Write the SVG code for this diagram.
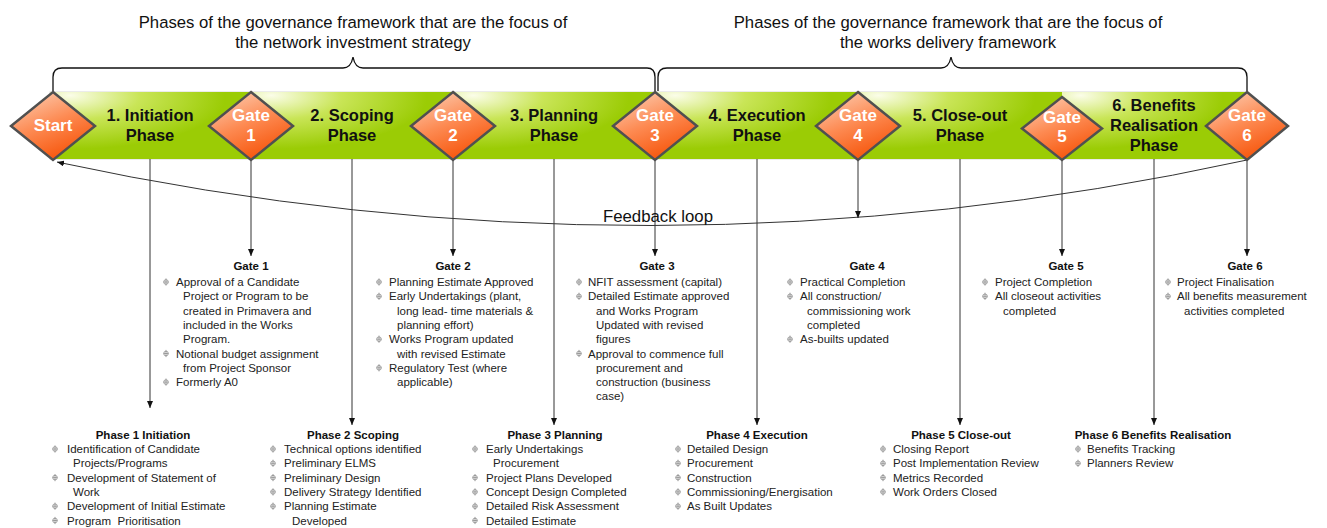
<svg xmlns="http://www.w3.org/2000/svg" xmlns:xlink="http://www.w3.org/1999/xlink" width="1327" height="528" viewBox="0 0 1327 528">
  <defs>
    <style>
      text { font-family: "Liberation Sans", Arial, sans-serif; }
      .title { font-size: 16.7px; fill: #111; text-anchor: middle; }
      .phase { font-size: 16.5px; font-weight: bold; fill: #111; text-anchor: middle; }
      .dlab { font-size: 17px; font-weight: bold; fill: #fff; text-anchor: middle; }
      .hd { font-size: 11.5px; font-weight: bold; fill: #111; text-anchor: middle; }
      .bt { font-size: 11.5px; fill: #222; }
      .seg { stroke: none; }
      .dia { fill: url(#gDia); stroke: #505050; stroke-width: 2.5; stroke-linejoin: miter; }
      .ln { stroke: #333; stroke-width: 1; fill: none; }
      .brace { stroke: #111; stroke-width: 1.3; fill: none; }
      .fb { font-size: 16.8px; fill: #111; text-anchor: middle; }
      .bm { fill: none; stroke: #8a8a8a; stroke-width: 0.8; }
    </style>
    <radialGradient id="gSeg" cx="0.12" cy="0.1" r="0.75" fx="0.1" fy="0.05">
      <stop offset="0" stop-color="#fbfde9"/>
      <stop offset="0.45" stop-color="#c9e557"/>
      <stop offset="1" stop-color="#9bcc05"/>
    </radialGradient>
    <linearGradient id="gDia" x1="0.25" y1="0" x2="0.75" y2="1">
      <stop offset="0" stop-color="#fcc8ab"/>
      <stop offset="0.45" stop-color="#fd8a52"/>
      <stop offset="1" stop-color="#f54d00"/>
    </linearGradient>
    <marker id="arr" markerWidth="7" markerHeight="6" refX="7" refY="3" orient="auto" markerUnits="userSpaceOnUse">
      <path d="M0,0 L7,3 L0,6 z" fill="#111"/>
    </marker>
    <!-- bullet mark: small circle crossed by a taller vertical stroke -->
    <g id="bul">
      <circle class="bm" cx="0" cy="0" r="2.3"/>
      <path class="bm" d="M-2.3,0 H2.3 M0,-3.6 V3.6"/>
    </g>
  </defs>

  <rect width="1327" height="528" fill="#fff"/>

  <!-- framework headings and braces -->
  <g id="heading-left">
    <text class="title" x="353" y="28">Phases of the governance framework that are the focus of</text>
    <text class="title" x="353" y="48">the network investment strategy</text>
    <path class="brace" d="M53,91 V77 Q53,68 62,68 H343 Q351,68 353,57 Q355,68 363,68 H647 Q655,68 655,77 V91"/>
  </g>
  <g id="heading-right">
    <text class="title" x="948" y="28">Phases of the governance framework that are the focus of</text>
    <text class="title" x="948" y="48">the works delivery framework</text>
    <path class="brace" d="M658,91 V77 Q658,68 667,68 H941 Q949,68 951,57 Q953,68 961,68 H1238 Q1247,68 1247,77 V91"/>
  </g>

  <!-- phase band -->
  <g id="band">
    <rect x="50" y="92" width="1197" height="67" fill="none" stroke="#d8d8d8" stroke-width="1"/>
    <rect class="seg" x="50" y="92" width="201" height="67" fill="url(#gSeg)"/>
    <rect class="seg" x="251" y="92" width="202" height="67" fill="url(#gSeg)"/>
    <rect class="seg" x="453" y="92" width="202" height="67" fill="url(#gSeg)"/>
    <rect class="seg" x="655" y="92" width="203" height="67" fill="url(#gSeg)"/>
    <rect class="seg" x="858" y="92" width="204" height="67" fill="url(#gSeg)"/>
    <rect class="seg" x="1062" y="92" width="185" height="67" fill="url(#gSeg)"/>
  </g>

  <g id="phase1-label"><text class="phase" x="150" y="121">1. Initiation</text><text class="phase" x="150" y="141">Phase</text></g>
  <g id="phase2-label"><text class="phase" x="352" y="121">2. Scoping</text><text class="phase" x="352" y="141">Phase</text></g>
  <g id="phase3-label"><text class="phase" x="554" y="121">3. Planning</text><text class="phase" x="554" y="141">Phase</text></g>
  <g id="phase4-label"><text class="phase" x="757" y="121">4. Execution</text><text class="phase" x="757" y="141">Phase</text></g>
  <g id="phase5-label"><text class="phase" x="960" y="121">5. Close-out</text><text class="phase" x="960" y="141">Phase</text></g>
  <g id="phase6-label"><text class="phase" x="1154" y="111">6. Benefits</text><text class="phase" x="1154" y="131">Realisation</text><text class="phase" x="1154" y="151">Phase</text></g>

  <!-- connectors -->
  <g id="connectors">
    <path class="ln" d="M1247,160 Q650,290 57,162" marker-end="url(#arr)"/>
    <line class="ln" x1="150" y1="159" x2="150" y2="408" marker-end="url(#arr)"/>
    <line class="ln" x1="251" y1="160" x2="251" y2="256" marker-end="url(#arr)"/>
    <line class="ln" x1="352" y1="159" x2="352" y2="425" marker-end="url(#arr)"/>
    <line class="ln" x1="453" y1="160" x2="453" y2="256" marker-end="url(#arr)"/>
    <line class="ln" x1="554" y1="159" x2="554" y2="425" marker-end="url(#arr)"/>
    <line class="ln" x1="655" y1="160" x2="655" y2="256" marker-end="url(#arr)"/>
    <line class="ln" x1="757" y1="159" x2="757" y2="425" marker-end="url(#arr)"/>
    <line class="ln" x1="858" y1="160" x2="858" y2="218" marker-end="url(#arr)"/>
    <line class="ln" x1="960" y1="159" x2="960" y2="425" marker-end="url(#arr)"/>
    <line class="ln" x1="1062" y1="160" x2="1062" y2="256" marker-end="url(#arr)"/>
    <line class="ln" x1="1154" y1="159" x2="1154" y2="425" marker-end="url(#arr)"/>
    <line class="ln" x1="1247" y1="160" x2="1247" y2="256" marker-end="url(#arr)"/>
    <text class="fb" x="658" y="222">Feedback loop</text>
  </g>

  <!-- gate diamonds -->
  <g id="start"><polygon class="dia" points="53,92 95,126 53,160 11,126"/><text class="dlab" x="53" y="131">Start</text></g>
  <g id="gate1"><polygon class="dia" points="251,92 293,126 251,160 209,126"/><text class="dlab" x="251" y="121">Gate</text><text class="dlab" x="251" y="141">1</text></g>
  <g id="gate2"><polygon class="dia" points="453,92 495,126 453,160 411,126"/><text class="dlab" x="453" y="121">Gate</text><text class="dlab" x="453" y="141">2</text></g>
  <g id="gate3"><polygon class="dia" points="655,92 697,126 655,160 613,126"/><text class="dlab" x="655" y="121">Gate</text><text class="dlab" x="655" y="141">3</text></g>
  <g id="gate4"><polygon class="dia" points="858,92 900,126 858,160 816,126"/><text class="dlab" x="858" y="121">Gate</text><text class="dlab" x="858" y="141">4</text></g>
  <g id="gate5"><polygon class="dia" points="1062,97 1102,128.5 1062,160 1022,128.5"/><text class="dlab" x="1062" y="123">Gate</text><text class="dlab" x="1062" y="142">5</text></g>
  <g id="gate6"><polygon class="dia" points="1247,92 1288,126 1247,160 1206,126"/><text class="dlab" x="1247" y="121">Gate</text><text class="dlab" x="1247" y="141">6</text></g>

  <!-- gate criteria -->
  <g id="gate1-notes">
    <text class="hd" x="251" y="270">Gate 1</text>
    <use href="#bul" x="166" y="282"/><use href="#bul" x="166" y="353.5"/><use href="#bul" x="166" y="382.1"/>
    <text class="bt" x="176" y="286">Approval of a Candidate</text>
    <text class="bt" x="183" y="300.3">Project or Program to be</text>
    <text class="bt" x="183" y="314.6">created in Primavera and</text>
    <text class="bt" x="183" y="328.9">included in the Works</text>
    <text class="bt" x="183" y="343.2">Program.</text>
    <text class="bt" x="176" y="357.5">Notional budget assignment</text>
    <text class="bt" x="183" y="371.8">from Project Sponsor</text>
    <text class="bt" x="176" y="386.1">Formerly A0</text>
  </g>
  <g id="gate2-notes">
    <text class="hd" x="453" y="270">Gate 2</text>
    <use href="#bul" x="379" y="282"/><use href="#bul" x="379" y="296.3"/><use href="#bul" x="379" y="339.2"/><use href="#bul" x="379" y="367.8"/>
    <text class="bt" x="389" y="286">Planning Estimate Approved</text>
    <text class="bt" x="389" y="300.3">Early Undertakings (plant,</text>
    <text class="bt" x="397" y="314.6">long lead- time materials &amp;</text>
    <text class="bt" x="397" y="328.9">planning effort)</text>
    <text class="bt" x="389" y="343.2">Works Program updated</text>
    <text class="bt" x="397" y="357.5">with revised Estimate</text>
    <text class="bt" x="389" y="371.8">Regulatory Test (where</text>
    <text class="bt" x="397" y="386.1">applicable)</text>
  </g>
  <g id="gate3-notes">
    <text class="hd" x="657" y="270">Gate 3</text>
    <use href="#bul" x="579" y="282"/><use href="#bul" x="579" y="296.3"/><use href="#bul" x="579" y="353.5"/>
    <text class="bt" x="588" y="286">NFIT assessment (capital)</text>
    <text class="bt" x="588" y="300.3">Detailed Estimate approved</text>
    <text class="bt" x="596" y="314.6">and Works Program</text>
    <text class="bt" x="596" y="328.9">Updated with revised</text>
    <text class="bt" x="596" y="343.2">figures</text>
    <text class="bt" x="588" y="357.5">Approval to commence full</text>
    <text class="bt" x="596" y="371.8">procurement and</text>
    <text class="bt" x="596" y="386.1">construction (business</text>
    <text class="bt" x="596" y="400.4">case)</text>
  </g>
  <g id="gate4-notes">
    <text class="hd" x="867" y="270">Gate 4</text>
    <use href="#bul" x="790" y="282"/><use href="#bul" x="790" y="296.3"/><use href="#bul" x="790" y="339.2"/>
    <text class="bt" x="800" y="286">Practical Completion</text>
    <text class="bt" x="800" y="300.3">All construction/</text>
    <text class="bt" x="807" y="314.6">commissioning work</text>
    <text class="bt" x="807" y="328.9">completed</text>
    <text class="bt" x="800" y="343.2">As-builts updated</text>
  </g>
  <g id="gate5-notes">
    <text class="hd" x="1066" y="270">Gate 5</text>
    <use href="#bul" x="985" y="282"/><use href="#bul" x="985" y="296.3"/>
    <text class="bt" x="995" y="286">Project Completion</text>
    <text class="bt" x="995" y="300.3">All closeout activities</text>
    <text class="bt" x="1003" y="314.6">completed</text>
  </g>
  <g id="gate6-notes">
    <text class="hd" x="1245" y="270">Gate 6</text>
    <use href="#bul" x="1168" y="282"/><use href="#bul" x="1168" y="296.3"/>
    <text class="bt" x="1177" y="286">Project Finalisation</text>
    <text class="bt" x="1177" y="300.3">All benefits measurement</text>
    <text class="bt" x="1184" y="314.6">activities completed</text>
  </g>

  <!-- phase activities -->
  <g id="phase1-notes">
    <text class="hd" x="143" y="439">Phase 1 Initiation</text>
    <use href="#bul" x="55" y="449"/><use href="#bul" x="55" y="477.6"/><use href="#bul" x="55" y="506.2"/><use href="#bul" x="55" y="520.5"/>
    <text class="bt" x="67" y="453">Identification of Candidate</text>
    <text class="bt" x="73" y="467.3">Projects/Programs</text>
    <text class="bt" x="67" y="481.6">Development of Statement of</text>
    <text class="bt" x="73" y="495.9">Work</text>
    <text class="bt" x="67" y="510.2">Development of Initial Estimate</text>
    <text class="bt" x="67" y="524.5" xml:space="preserve">Program  Prioritisation</text>
  </g>
  <g id="phase2-notes">
    <text class="hd" x="353" y="439">Phase 2 Scoping</text>
    <use href="#bul" x="273" y="449"/><use href="#bul" x="273" y="463.3"/><use href="#bul" x="273" y="477.6"/><use href="#bul" x="273" y="491.9"/><use href="#bul" x="273" y="506.2"/>
    <text class="bt" x="284" y="453">Technical options identified</text>
    <text class="bt" x="284" y="467.3">Preliminary ELMS</text>
    <text class="bt" x="284" y="481.6">Preliminary Design</text>
    <text class="bt" x="284" y="495.9">Delivery Strategy Identified</text>
    <text class="bt" x="284" y="510.2">Planning Estimate</text>
    <text class="bt" x="292" y="524.5">Developed</text>
  </g>
  <g id="phase3-notes">
    <text class="hd" x="555" y="439">Phase 3 Planning</text>
    <use href="#bul" x="475" y="449"/><use href="#bul" x="475" y="477.6"/><use href="#bul" x="475" y="491.9"/><use href="#bul" x="475" y="506.2"/><use href="#bul" x="475" y="520.5"/>
    <text class="bt" x="486" y="453">Early Undertakings</text>
    <text class="bt" x="493" y="467.3">Procurement</text>
    <text class="bt" x="486" y="481.6">Project Plans Developed</text>
    <text class="bt" x="486" y="495.9">Concept Design Completed</text>
    <text class="bt" x="486" y="510.2">Detailed Risk Assessment</text>
    <text class="bt" x="486" y="524.5">Detailed Estimate</text>
  </g>
  <g id="phase4-notes">
    <text class="hd" x="757" y="439">Phase 4 Execution</text>
    <use href="#bul" x="678" y="449"/><use href="#bul" x="678" y="463.3"/><use href="#bul" x="678" y="477.6"/><use href="#bul" x="678" y="491.9"/><use href="#bul" x="678" y="506.2"/>
    <text class="bt" x="687" y="453">Detailed Design</text>
    <text class="bt" x="687" y="467.3">Procurement</text>
    <text class="bt" x="687" y="481.6">Construction</text>
    <text class="bt" x="687" y="495.9">Commissioning/Energisation</text>
    <text class="bt" x="687" y="510.2">As Built Updates</text>
  </g>
  <g id="phase5-notes">
    <text class="hd" x="961" y="439">Phase 5 Close-out</text>
    <use href="#bul" x="883" y="449"/><use href="#bul" x="883" y="463.3"/><use href="#bul" x="883" y="477.6"/><use href="#bul" x="883" y="491.9"/>
    <text class="bt" x="893" y="453">Closing Report</text>
    <text class="bt" x="893" y="467.3">Post Implementation Review</text>
    <text class="bt" x="893" y="481.6">Metrics Recorded</text>
    <text class="bt" x="893" y="495.9">Work Orders Closed</text>
  </g>
  <g id="phase6-notes">
    <text class="hd" x="1153" y="439">Phase 6 Benefits Realisation</text>
    <use href="#bul" x="1078" y="449"/><use href="#bul" x="1078" y="463.3"/>
    <text class="bt" x="1087" y="453">Benefits Tracking</text>
    <text class="bt" x="1087" y="467.3">Planners Review</text>
  </g>
</svg>
